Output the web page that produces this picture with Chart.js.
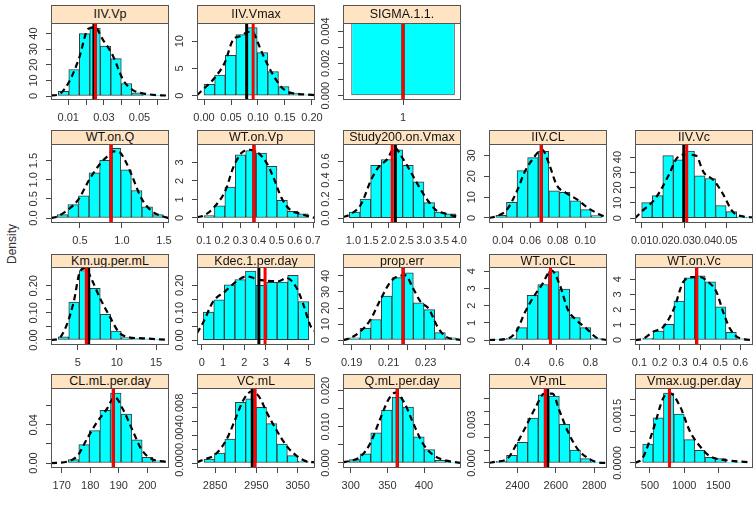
<!DOCTYPE html>
<html><head><meta charset="utf-8">
<script src="https://cdn.jsdelivr.net/npm/chart.js@4.4.0/dist/chart.umd.min.js"></script>
<style>
html,body{margin:0;padding:0;background:#fff;}
#wrap{position:relative;width:756px;height:515px;overflow:hidden;background:#fff;font-family:"Liberation Sans",Arial,sans-serif;}
#wrap canvas{position:absolute;}
.strip{position:absolute;box-sizing:border-box;border:1px solid #555;background:#FFE4C4;color:#111;font-size:12.5px;text-align:center;white-space:nowrap;overflow:hidden;z-index:2;}
#ylab{position:absolute;left:12px;top:244px;transform:translate(-50%,-50%) rotate(-90deg);font-size:12px;color:#333;white-space:nowrap;}
</style></head><body><div id="wrap"><div id="ylab">Density</div></div>
<script>
// ---------------- data ----------------
const panelNames = ["IIV.Vp","IIV.Vmax","SIGMA.1.1.","WT.on.Q","WT.on.Vp","Study200.on.Vmax","IIV.CL","IIV.Vc",
  "Km.ug.per.mL","Kdec.1.per.day","prop.err","WT.on.CL","WT.on.Vc",
  "CL.mL.per.day","VC.mL","Q.mL.per.day","VP.mL","Vmax.ug.per.day"];

const xLimits = [[0.0003,0.0666],[-0.013,0.2056],[0.42,1.56],[0.155,1.56],[0.0615,0.711],[0.706,4.05],[0.0299,0.1159],[0.00685,0.0624],
  [1.59,16.66],[-0.22,5.31],[0.1853,0.2491],[0.2035,0.897],[0.0777,0.662],
  [166.25,207.6],[2806.4,3091.9],[289.4,450.5],[2251.7,2867],[280.4,2008]];
const yLimits = [[-2.55,46.8],[-0.8,13.35],[-0.00027,0.0045],[-0.13,1.935],[-0.27,3.99],[-0.052,0.78],[-2.4,35.5],[-3.2,48.6],
  [-0.0185,0.269],[-0.018,0.267],[-3.1,45.6],[-0.29,4.25],[-0.33,4.81],
  [-0.0052,0.0785],[-0.00072,0.0108],[-0.0014,0.0207],[-0.00039,0.00583],[-0.00016,0.00238]];

const binStarts = [0.0044,0,0.5,0.23,0.1,0.886,0.0349,0.01,2.52,0.07,0.1887,0.240,0.116,172.3,2823.4,298.1,2287.9,393];
const binWidths = [0.0059,0.0197,1.0,0.126,0.0574,0.302,0.00772,0.00497,1.34,0.495,0.00577,0.0625,0.0515,3.7,25.2,14.6,55.1,152];
const binHeights = [
  [3,17,40,43.5,32,24,8,2,0.7,0.3],
  [2.1,3.8,7.4,11.2,12.5,7.9,4.4,1.65,0.45,0.15],
  [0.005],
  [0.09,0.35,0.58,1.18,1.51,1.82,1.26,0.72,0.29,0.09],
  [0.13,0.66,1.67,3.41,3.64,3.5,2.78,0.95,0.36,0.22],
  [0.062,0.2,0.555,0.617,0.718,0.555,0.381,0.163,0.062,0.045],
  [1.3,7.5,22.7,29,32,13,12.3,8.2,4,1.1],
  [10.2,14.7,41,38.3,43.9,27.7,26,8.2,4.3,0.6],
  [0.012,0.14,0.256,0.19,0.095,0.033,0.0086,0.006,0.004,0.002],
  [0.102,0.147,0.202,0.221,0.252,0.2,0.211,0.212,0.237,0.141],
  [1.45,7.25,12.8,27.4,39,42,23.2,19,4.6,1.45],
  [0.02,0.1,0.72,2.6,3.23,3.98,2.97,1.3,0.72,0.08],
  [0.11,0.59,1.03,2.56,4.09,4.22,3.83,2.19,0.5,0.07],
  [0.0035,0.0192,0.0339,0.0551,0.0733,0.0513,0.0244,0.0059,0.0024],
  [0.00058,0.00144,0.00346,0.00875,0.00923,0.00803,0.00567,0.00274,0.00106,0.00024],
  [0.0009,0.0025,0.0083,0.0146,0.0182,0.0154,0.0072,0.0037,0.0007,0.0002],
  [0.00013,0.0006,0.0016,0.0035,0.0053,0.0052,0.003,0.001,0.00034,0.00005],
  [0.0006,0.00143,0.00222,0.00155,0.00074,0.0004,0.00018,0.00014,0.00002,0.00002]
];

const kdeX = [
  [0.0003,0.0044,0.0104,0.016,0.0212,0.025,0.0295,0.035,0.041,0.0463,0.054,0.0666],
  [-0.013,0,0.019,0.039,0.054,0.067,0.082,0.091,0.099,0.111,0.128,0.144,0.159,0.19,0.2056],
  [],
  [0.155,0.23,0.36,0.48,0.61,0.74,0.82,0.9,0.97,1.05,1.12,1.23,1.36,1.49,1.56],
  [0.0615,0.1,0.157,0.219,0.26,0.306,0.35,0.4,0.445,0.48,0.527,0.573,0.628,0.711],
  [0.706,0.886,1.21,1.5,1.72,1.96,2.17,2.38,2.62,2.86,3.1,3.33,3.62,4.05],
  [0.0299,0.035,0.043,0.0506,0.0558,0.061,0.0687,0.074,0.0792,0.0856,0.0946,0.1023,0.1127,0.1159],
  [0.00685,0.01,0.0165,0.023,0.0264,0.0302,0.0355,0.0392,0.0438,0.0482,0.0528,0.058,0.0624],
  [1.59,2.52,3.6,4.5,5.3,5.95,6.8,7.85,9.1,10.2,11.2,13.4,16.66],
  [-0.22,0.075,0.54,1.1,1.64,2.1,2.65,3.05,3.6,3.98,4.45,4.77,5.08,5.31],
  [0.1853,0.1887,0.1945,0.2,0.2054,0.211,0.2155,0.2191,0.2228,0.2273,0.2318,0.2364,0.2409,0.2491],
  [0.2035,0.302,0.363,0.416,0.465,0.513,0.571,0.62,0.668,0.717,0.775,0.834,0.897],
  [0.0777,0.116,0.168,0.218,0.271,0.317,0.366,0.399,0.44,0.481,0.514,0.547,0.597,0.662],
  [166.25,172.3,175.8,178.7,182.2,185.7,188.6,191.5,195,198,201.5,205.6,207.6],
  [2806.4,2823,2850,2878,2899,2919,2939,2956,2976,3000,3024,3048,3073,3091.9],
  [289.4,298,313.8,326.8,340.6,352,361.3,372.7,384.2,398,411.8,425.5,450.5],
  [2251.7,2287.9,2344.7,2400,2453,2497,2540,2583,2618,2661,2713,2765,2817,2867],
  [280.4,393,547,695,792,939,1085,1231,1379,1572,1962]
];
const kdeY = [
  [0.4,0.9,9,24,43,44,36,26,10,3.8,1.3,0.2],
  [0.1,1.3,3.2,6.2,10.3,10.9,11.7,11.6,9.9,7.1,3.8,1.5,0.55,0.2,0.1],
  [],
  [0,0.04,0.22,0.48,1.0,1.42,1.6,1.74,1.72,1.45,1.1,0.52,0.17,0.04,0],
  [0.05,0.13,0.6,1.5,2.7,3.5,3.68,3.5,2.96,2.24,1.08,0.45,0.23,0],
  [0.01,0.035,0.14,0.4,0.54,0.62,0.74,0.64,0.49,0.33,0.19,0.087,0.045,0.005],
  [0,0.8,4,13.4,22,27.6,32.7,25.3,15.8,12.2,8.7,4.7,1.1,0.3],
  [0,4.3,13,29,39,41.7,41,30,25,16,4.3,1,0.5],
  [0,0.004,0.056,0.142,0.253,0.265,0.222,0.154,0.086,0.031,0.012,0.006,0],
  [0.025,0.065,0.141,0.178,0.215,0.233,0.221,0.217,0.215,0.227,0.19,0.129,0.055,0.031],
  [0,1,5.2,12.4,24.9,36.3,40,40.4,33.2,23.8,19.3,8.3,2.1,0],
  [0,0.06,0.48,1.64,2.5,3.19,4.06,3.19,1.74,1.16,0.68,0.14,0],
  [0,0.07,0.55,0.87,2.08,3.83,4.15,4.15,3.83,3.17,1.86,0.77,0.11,0],
  [0,0.0017,0.0087,0.0244,0.042,0.056,0.069,0.056,0.033,0.014,0.0042,0.0017,0.0007],
  [0.0001,0.0005,0.0012,0.0034,0.0063,0.0091,0.0103,0.0096,0.0072,0.0046,0.0024,0.001,0.0002,0.0001],
  [0.0002,0.0005,0.0018,0.0055,0.0124,0.0177,0.0194,0.0168,0.0115,0.0055,0.0023,0.0009,0],
  [0,0.0001,0.0003,0.0016,0.0031,0.0044,0.0054,0.0054,0.0041,0.0025,0.0011,0.0004,0.00005,0],
  [0,0.00016,0.00106,0.00206,0.00222,0.0018,0.001,0.00053,0.00021,0.0001,0.00002]
];

const blackLines = [0.0244,0.079,1,0.87,0.375,2.19,0.068,0.0298,6.4,2.68,0.2178,0.565,0.383,188.1,2940,363.5,2558,785];
const redLines   = [0.0253,0.091,1,0.87,0.375,2.10,0.068,0.0312,6.1,2.97,0.2178,0.565,0.383,188.1,2947,363.5,2545,785];

const xTickVals = [
  [0.01,0.02,0.03,0.04,0.05,0.06],[0,0.05,0.1,0.15,0.2],[1],[0.5,1,1.5],[0.1,0.2,0.3,0.4,0.5,0.6,0.7],
  [1,1.5,2,2.5,3,3.5,4],[0.04,0.06,0.08,0.10],[0.01,0.02,0.03,0.04,0.05],
  [5,10,15],[0,1,2,3,4,5],[0.19,0.2,0.21,0.22,0.23,0.24],[0.4,0.6,0.8],[0.1,0.2,0.3,0.4,0.5,0.6],
  [170,180,190,200],[2850,2900,2950,3000,3050],[300,350,400],[2400,2600,2800],[500,1000,1500]
];
const xTickText = [
  ["0.01","","0.03","","0.05",""],["0.00","0.05","0.10","0.15","0.20"],["1"],["0.5","1.0","1.5"],["0.1","0.2","0.3","0.4","0.5","0.6","0.7"],
  ["1.0","1.5","2.0","2.5","3.0","3.5","4.0"],["0.04","0.06","0.08","0.10"],["0.01","0.02","0.03","0.04","0.05"],
  ["5","10","15"],["0","1","2","3","4","5"],["0.19","","0.21","","0.23",""],["0.4","0.6","0.8"],["0.1","0.2","0.3","0.4","0.5","0.6"],
  ["170","180","190","200"],["2850","","2950","","3050"],["300","350","400"],["2400","2600","2800"],["500","1000","1500"]
];
const yTickVals = [
  [0,10,20,30,40],[0,5,10],[0,0.001,0.002,0.003,0.004],[0,0.5,1,1.5],[0,1,2,3],
  [0,0.2,0.4,0.6],[0,10,20,30],[0,10,20,30,40],
  [0,0.05,0.1,0.15,0.2],[0,0.05,0.1,0.15,0.2],[0,10,20,30,40],[0,1,2,3,4],[0,1,2,3,4],
  [0,0.02,0.04,0.06],[0,0.002,0.004,0.006,0.008,0.010],[0,0.005,0.01,0.015,0.02],[0,0.001,0.002,0.003,0.004,0.005],[0,0.0005,0.001,0.0015,0.002]
];
const yTickText = [
  ["0","10","20","30","40"],["0","5","10"],["0.000","","0.002","","0.004"],["0.0","0.5","1.0","1.5"],["0","1","2","3"],
  ["0.0","0.2","0.4","0.6"],["0","10","20","30"],["0","10","20","30","40"],
  ["0.00","","0.10","","0.20"],["0.00","","0.10","","0.20"],["0","10","20","30","40"],["0","1","2","3","4"],["0","1","2","3","4"],
  ["0.00","","0.04",""],["0.000","","0.004","","0.008",""],["0.000","","0.010","","0.020"],["0.000","","","0.003","",""],["0.0000","","","0.0015",""]
];

// ---------------- layout ----------------
const colLeft = [51,197,343,489,635];
const plotWidth = 118;
const stripTop = [5,130,254,374];
const plotTop = [23,144,267,388];
const plotBottom = [100,223,345,468];
const FONT = '"Liberation Sans", Arial, sans-serif';

Chart.defaults.font.family = FONT;
Chart.defaults.font.size = 11;
Chart.defaults.color = '#333';

const framePlugin = {
  id: 'rframe',
  afterDatasetsDraw(chart) {
    const a = chart.chartArea, ctx = chart.ctx;
    ctx.save();
    ctx.strokeStyle = '#555'; ctx.lineWidth = 1;
    ctx.strokeRect(Math.round(a.left) + 0.5, Math.round(a.top) + 0.5, Math.round(a.right - a.left) - 1, Math.round(a.bottom - a.top) - 1);
    ctx.restore();
  },
  afterDraw(chart, args, opts) {
    const ys = chart.scales.y, a = chart.chartArea, ctx = chart.ctx;
    ctx.save();
    ctx.fillStyle = '#333';
    ctx.font = '11px ' + FONT;
    ctx.textAlign = 'center'; ctx.textBaseline = 'middle';
    opts.values.forEach((v, k) => {
      const t = opts.labels[k];
      if (!t) return;
      ctx.save();
      ctx.translate(a.left - 17, ys.getPixelForValue(v));
      ctx.rotate(-Math.PI / 2);
      ctx.fillText(t, 0, 0);
      ctx.restore();
    });
    ctx.restore();
  }
};

const wrap = document.getElementById('wrap');

panelNames.forEach((name, i) => {
  const r = i < 3 ? 0 : Math.floor((i - 3) / 5) + 1;
  const c = i < 3 ? i : (i - 3) % 5;
  const L = colLeft[c], T = plotTop[r], B = plotBottom[r];
  const padL = 50, padT = 20, padR = 25, padB = 30;

  const cv = document.createElement('canvas');
  cv.width = plotWidth + padL + padR;
  cv.height = B - T + padT + padB;
  cv.style.left = (L - padL) + 'px';
  cv.style.top = (T - padT) + 'px';
  wrap.appendChild(cv);

  const strip = document.createElement('div');
  strip.className = 'strip';
  const sh = T - stripTop[r];
  strip.style.left = L + 'px';
  strip.style.top = stripTop[r] + 'px';
  strip.style.width = plotWidth + 'px';
  strip.style.height = (sh + 1) + 'px';
  strip.style.lineHeight = (sh - 1) + 'px';
  strip.textContent = name;
  wrap.appendChild(strip);

  const bars = binHeights[i].map((h, k) => ({ x: binStarts[i] + (k + 0.5) * binWidths[i], y: h }));
  const kde = kdeX[i].map((x, k) => ({ x: x, y: kdeY[i][k] }));
  const y0 = yLimits[i][0], y1 = yLimits[i][1];
  const vline = v => [{ x: v, y: y0 }, { x: v, y: y1 }];
  const catPct = bars.length > 1 ? 1 : binWidths[i] / (xLimits[i][1] - xLimits[i][0]);

  const datasets = [
    { type: 'bar', data: bars, backgroundColor: '#00FFFF', borderColor: '#3a3a3a', borderWidth: 1,
      borderSkipped: false, barPercentage: 1, categoryPercentage: catPct, clip: 0, order: 4 },
    { type: 'line', data: kde, borderColor: '#000', borderWidth: 2.2, borderDash: [6, 4], pointRadius: 0,
      cubicInterpolationMode: 'monotone', fill: false, clip: 0, order: 3 },
    { type: 'line', data: vline(blackLines[i]), borderColor: '#000', borderWidth: 3, pointRadius: 0, fill: false, clip: 0, order: 2 },
    { type: 'line', data: vline(redLines[i]), borderColor: '#FF0000', borderWidth: 3, pointRadius: 0, fill: false, clip: 0, order: 1 }
  ];

  new Chart(cv, {
    type: 'bar',
    data: { datasets: datasets },
    plugins: [framePlugin],
    options: {
      responsive: false, animation: false, devicePixelRatio: 1, events: [],
      layout: { padding: { left: 0, top: padT, right: padR, bottom: 0 } },
      plugins: { legend: { display: false }, tooltip: { enabled: false }, title: { display: false },
        rframe: { values: yTickVals[i], labels: yTickText[i] } },
      scales: {
        x: {
          type: 'linear', min: xLimits[i][0], max: xLimits[i][1], offset: false,
          afterBuildTicks: s => { s.ticks = xTickVals[i].map(v => ({ value: v })); },
          afterFit: s => { s.height = padB; },
          grid: { drawOnChartArea: false, drawTicks: true, tickLength: 5, tickColor: '#444', offset: false },
          border: { display: false },
          ticks: { autoSkip: false, maxRotation: 0, minRotation: 0, padding: 6, color: '#333',
            font: { size: 11, family: FONT },
            callback: (v, idx) => xTickText[i][idx] }
        },
        y: {
          type: 'linear', min: y0, max: y1,
          afterBuildTicks: s => { s.ticks = yTickVals[i].map(v => ({ value: v })); },
          afterFit: s => { s.width = padL; },
          grid: { drawOnChartArea: false, drawTicks: true, tickLength: 5, tickColor: '#444' },
          border: { display: false },
          ticks: { display: false }
        }
      }
    }
  });
});
</script></body></html>
